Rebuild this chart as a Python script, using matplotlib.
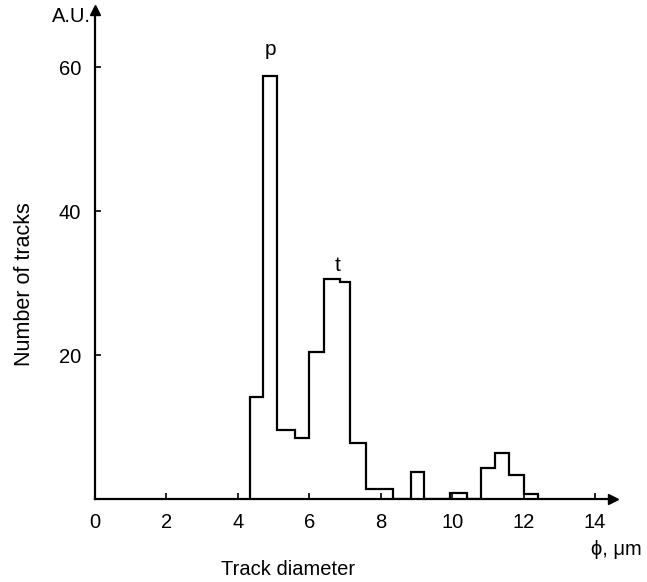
import matplotlib.pyplot as plt
import numpy as np

plt.rcParams['font.family'] = ['Liberation Sans', 'DejaVu Sans']

# histogram bin edges (um) and track counts
edges = [4.35, 4.7, 5.1, 5.6, 6.0, 6.4, 6.85, 7.15, 7.6, 8.35,
         8.85, 9.2, 9.95, 10.4, 10.8, 11.2, 11.6, 12.0, 12.4]
counts = [14.2, 58.7, 9.6, 8.5, 20.4, 30.5, 30.1, 7.8, 1.4,
          0, 3.7, 0, 0.9, 0, 4.3, 6.4, 3.3, 0.7]

xticks = [0, 2, 4, 6, 8, 10, 12, 14]
yticks = [20, 40, 60]

fig = plt.figure(figsize=(6.47, 5.82), dpi=100)
ax = fig.add_axes([0.1468, 0.1426, 0.8006, 0.841])

ax.stairs(counts, edges, color='black', linewidth=1.6)

ax.set_xlim(0, 14.5)
ax.set_ylim(0, 68)
for s in ['top', 'right']:
    ax.spines[s].set_visible(False)
ax.spines['left'].set_linewidth(1.6)
ax.spines['bottom'].set_linewidth(1.6)

# arrow heads
ax.plot(14.5, 0, marker='>', color='black', markersize=7, clip_on=False)
ax.plot(0, 68, marker='^', color='black', markersize=7, clip_on=False)

ax.set_xticks(xticks)
ax.set_xticklabels([str(t) for t in xticks])
ax.set_yticks(yticks)
ax.set_yticklabels([str(t) for t in yticks])
ax.tick_params(direction='in', length=4, width=1.2, labelsize=14.5, pad=10)

ax.text(-0.1, 67, 'A.U.', ha='right', va='center', fontsize=14.5)
ax.text(14.6, -7.0, 'ϕ, μm', ha='center', va='center', fontsize=14.5)
fig.text(0.445, 0.021, 'Track diameter', ha='center', va='center', fontsize=14.5)
fig.text(0.038, 0.512, 'Number of tracks', ha='center', va='center',
         rotation=90, fontsize=15.5)

ax.text(4.9, 62.5, 'p', ha='center', va='center', fontsize=15)
ax.text(6.8, 32.5, 't', ha='center', va='center', fontsize=15)

fig.savefig('out.png', dpi=100)
